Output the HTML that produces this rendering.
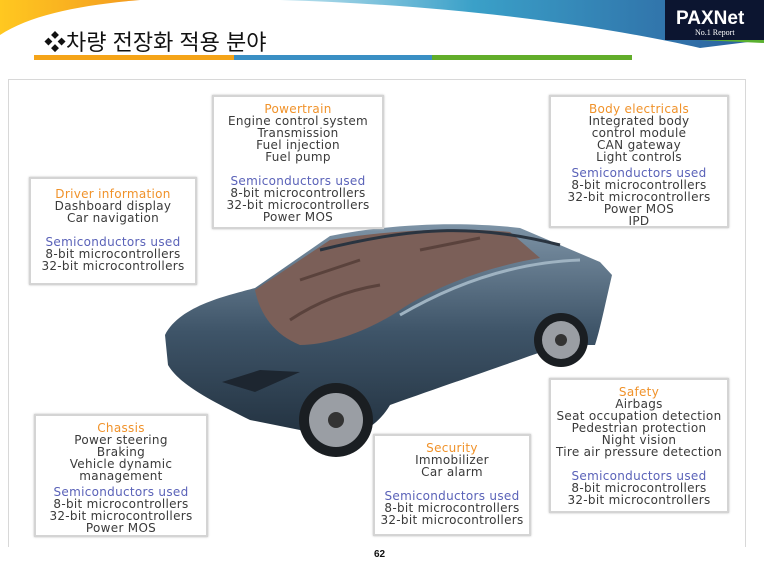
<!DOCTYPE html>
<html><head><meta charset="utf-8"><style>
body{margin:0;width:764px;height:569px;position:relative;background:#fff;overflow:hidden;font-family:"DejaVu Sans",sans-serif}
.b{position:absolute;border:2px solid #d4d4d4;box-shadow:0 0 2px #bbb;background:#fff;text-align:center;font-size:12px;line-height:12px;color:#3a3a3a;box-sizing:border-box;padding-top:6px;white-space:nowrap;letter-spacing:0.3px}
.o{color:#f0922a}.s{color:#5a62b8}
.g{height:12px}
</style></head><body>
<svg width="764" height="80" style="position:absolute;left:0;top:0">
<defs>
<linearGradient id="bl" x1="0" x2="1"><stop offset="0" stop-color="#bfe3ef"/><stop offset="0.4" stop-color="#3aa0c8"/><stop offset="1" stop-color="#2c5e9c"/></linearGradient>
<linearGradient id="or" x1="0" x2="1"><stop offset="0" stop-color="#ffc820"/><stop offset="1" stop-color="#f39a20"/></linearGradient>
</defs>
<path d="M0,35 C30,15 80,5 140,0 L0,0Z" fill="url(#or)"/>
<path d="M280,0 C450,5 600,25 700,48 L764,40 L764,0Z" fill="url(#bl)"/>
<path d="M700,40 L764,40 L764,43 Z" fill="#5ab030"/>
<rect x="665" y="0" width="99" height="40" fill="#0c1530"/>
<text x="676" y="24" font-family="Liberation Sans" font-weight="bold" font-size="19" fill="#fff">PAXNet</text>
<text x="695" y="35" font-family="Liberation Serif" font-size="8" fill="#fff">No.1 Report</text>
<rect x="34" y="55" width="200" height="5" fill="#f5a418"/>
<rect x="234" y="55" width="198" height="5" fill="#3a8fc4"/>
<rect x="432" y="55" width="200" height="5" fill="#62ad2a"/>
</svg>
<div style="position:absolute;left:44px;top:25px;font-family:'Liberation Sans','Noto Sans CJK KR',sans-serif;font-size:22px;color:#111">❖차량 전장화 적용 분야</div>
<div style="position:absolute;left:8px;top:79px;width:738px;height:468px;border:1px solid #d8d8d8;border-bottom:none;box-sizing:border-box"></div>

<svg width="764" height="569" style="position:absolute;left:0;top:0">
<defs>
<linearGradient id="car" x1="0" y1="0" x2="0" y2="1"><stop offset="0" stop-color="#7d93a6"/><stop offset="0.5" stop-color="#3e5468"/><stop offset="1" stop-color="#22313f"/></linearGradient>
</defs>
<path d="M165,335 C180,305 230,295 255,288 L330,236 C400,222 470,222 520,228 L600,262 L612,275 C605,305 600,330 595,345 L560,345 C520,360 460,380 390,405 C370,440 320,450 300,430 L250,420 C210,400 180,385 168,365 Z" fill="url(#car)"/>
<path d="M255,290 L330,240 C400,228 470,228 510,232 L540,258 C480,268 430,290 400,310 C370,330 330,345 300,345 C275,335 260,315 255,290Z" fill="#7b5f58"/>
<path d="M290,320 C320,300 350,290 380,285 M420,250 L480,238 M300,280 L360,260" stroke="#5a423c" stroke-width="3" fill="none"/>
<path d="M320,250 C420,225 480,225 560,245" stroke="#2a3440" stroke-width="3" fill="none"/>
<path d="M400,315 C460,280 520,262 580,260" stroke="#9fb3c2" stroke-width="3" fill="none"/>
<path d="M222,382 L260,370 L300,372 L255,392Z" fill="#1d2630"/>
<circle cx="336" cy="420" r="37" fill="#1a1e22"/>
<circle cx="336" cy="420" r="27" fill="#9a9ea4"/>
<circle cx="336" cy="420" r="8" fill="#333"/>
<circle cx="561" cy="340" r="27" fill="#1a1e22"/>
<circle cx="561" cy="340" r="19" fill="#9a9ea4"/>
<circle cx="561" cy="340" r="6" fill="#333"/>
</svg>

<div class="b" style="left:212px;top:95px;width:172px;height:134px"><span class="o">Powertrain</span><br>Engine control system<br>Transmission<br>Fuel injection<br>Fuel pump<div class="g"></div><span class="s">Semiconductors used</span><br>8-bit microcontrollers<br>32-bit microcontrollers<br>Power MOS</div>
<div class="b" style="left:29px;top:177px;width:168px;height:108px;padding-top:9px"><span class="o">Driver information</span><br>Dashboard display<br>Car navigation<div class="g"></div><span class="s">Semiconductors used</span><br>8-bit microcontrollers<br>32-bit microcontrollers</div>
<div class="b" style="left:549px;top:95px;width:180px;height:133px"><span class="o">Body electricals</span><br>Integrated body<br>control module<br>CAN gateway<br>Light controls<div style="height:4px"></div><span class="s">Semiconductors used</span><br>8-bit microcontrollers<br>32-bit microcontrollers<br>Power MOS<br>IPD</div>
<div class="b" style="left:34px;top:414px;width:174px;height:123px"><span class="o">Chassis</span><br>Power steering<br>Braking<br>Vehicle dynamic<br>management<div style="height:4px"></div><span class="s">Semiconductors used</span><br>8-bit microcontrollers<br>32-bit microcontrollers<br>Power MOS</div>
<div class="b" style="left:373px;top:434px;width:158px;height:102px"><span class="o">Security</span><br>Immobilizer<br>Car alarm<div class="g"></div><span class="s">Semiconductors used</span><br>8-bit microcontrollers<br>32-bit microcontrollers</div>
<div class="b" style="left:549px;top:378px;width:180px;height:135px"><span class="o">Safety</span><br>Airbags<br>Seat occupation detection<br>Pedestrian protection<br>Night vision<br>Tire air pressure detection<div class="g"></div><span class="s">Semiconductors used</span><br>8-bit microcontrollers<br>32-bit microcontrollers</div>
<div style="position:absolute;left:374px;top:549px;font-family:'Liberation Sans',sans-serif;font-size:10px;font-weight:bold;color:#111">62</div>
</body></html>
